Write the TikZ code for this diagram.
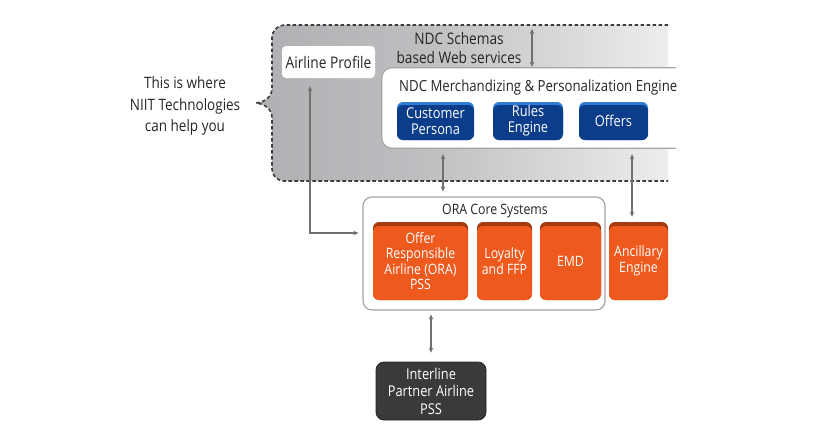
\documentclass[tikz,border=0pt]{standalone}
\usepackage{fontspec}
\setmainfont{Open Sans}[FakeStretch=0.86]
\usetikzlibrary{arrows.meta,calc}
\definecolor{txt}{HTML}{262626}
\definecolor{arrgray}{HTML}{707070}
\definecolor{dashgray}{HTML}{3C3C3C}
\definecolor{orangemain}{HTML}{EE5A1E}
\definecolor{orangedark}{HTML}{A83A10}
\definecolor{bluemain}{HTML}{0C3D8A}
\definecolor{bluelight}{HTML}{2E7BD4}
\definecolor{darkbox}{HTML}{3A3A3A}
\definecolor{darkborder}{HTML}{262626}
\definecolor{boxborder}{HTML}{A5A5A5}
\definecolor{gA}{HTML}{9C9EA1}
\definecolor{gB}{HTML}{BDBEC0}
\definecolor{gC}{HTML}{EDEDED}
\pgfdeclarehorizontalshading{grayfade}{100bp}{color(0bp)=(gA); color(45bp)=(gB); color(75bp)=(gC); color(88bp)=(white); color(100bp)=(white)}
\newcommand\regionpath{(668,25) -- (284,25) .. controls (277.4,25) and (272,31.6) .. (272,37) -- (272,88) .. controls (272,96) and (266,102) .. (256,103) .. controls (266,104) and (272,110) .. (272,118) -- (272,169) .. controls (272,175.4) and (277.4,181) .. (284,181) -- (668,181)}
\begin{document}
\begin{tikzpicture}[x=1pt,y=-1pt,
  lbl/.style={text=txt, inner sep=0pt, align=center},
  orbox/.style={rounded corners=6pt, fill=orangedark, text=white, align=center, inner sep=0pt,
    font=\fontsize{14.3pt}{15.5pt}\selectfont,
    path picture={\fill[orangemain, rounded corners=6pt] ([yshift=-4pt]path picture bounding box.north west) rectangle (path picture bounding box.south east);}},
  blbox/.style={rounded corners=6pt, fill=bluelight, text=white, align=center, inner sep=0pt,
    font=\fontsize{14.9pt}{16pt}\selectfont, minimum height=38pt,
    path picture={\fill[bluemain, rounded corners=6pt] ([yshift=-3pt]path picture bounding box.north west) rectangle (path picture bounding box.south east);}},
  arr/.style={draw=arrgray, line width=1.1pt, {Stealth[length=5pt,width=4.5pt]}-{Stealth[length=5pt,width=4.5pt]}}
]
\fill[white] (0,0) rectangle (830,439);
\useasboundingbox (0,0) rectangle (830,439);

% shaded region with dashed border
\shade[shading=grayfade] \regionpath -- cycle;
\draw[dashgray, line width=1.6pt, dash pattern=on 3.5pt off 2.5pt] \regionpath;

% left text
\node[lbl, font=\fontsize{15.7pt}{21.5pt}\selectfont] (help) at (185,106) {This is where\\NIIT Technologies\\can help you};

% airline profile
\node[lbl, fill=white, rounded corners=4pt, minimum width=93pt, minimum height=32pt, font=\fontsize{16pt}{18pt}\selectfont] (airline) at (328.5,62) {Airline Profile};

% NDC schemas
\node[lbl, font=\fontsize{15.9pt}{19.5pt}\selectfont] (schemas) at (459,48) {NDC Schemas\\based Web services};

% NDC engine box (open on the right)
\node[inner sep=0pt, minimum width=294pt, minimum height=80pt] (ndc) at (529,108) {};
\path[fill=white, draw=boxborder, line width=1.2pt] (ndc.north east) -- ($(ndc.north west)+(10,0)$) .. controls ($(ndc.north west)+(4.5,0)$) and ($(ndc.north west)+(0,4.5)$) .. ($(ndc.north west)+(0,10)$) -- ($(ndc.south west)+(0,-10)$) .. controls ($(ndc.south west)+(0,-4.5)$) and ($(ndc.south west)+(4.5,0)$) .. ($(ndc.south west)+(10,0)$) -- (ndc.south east);
\node[lbl, anchor=base west, font=\fontsize{15.35pt}{17pt}\selectfont] (ndctitle) at (399,91) {NDC Merchandizing \& Personalization Engine};

\node[blbox, minimum width=77pt] (persona) at (435.5,121) {Customer\\Persona};
\node[blbox, minimum width=70pt] (rules) at (528,121) {Rules\\Engine};
\node[blbox, minimum width=69pt] (offers) at (613.5,121) {Offers};

% ORA core systems
\node[fill=white, draw=boxborder, line width=1.2pt, rounded corners=9pt, minimum width=242pt, minimum height=113pt, inner sep=0pt] (oracore) at (484,253.5) {};
\node[lbl, anchor=base, font=\fontsize{14.3pt}{16pt}\selectfont] (coretitle) at (495,214) {ORA Core Systems};
\node[orbox, minimum width=95pt, minimum height=78pt] (orapss) at (420.5,261) {Offer\\Responsible\\Airline (ORA)\\PSS};
\node[orbox, minimum width=55pt, minimum height=78pt] (loyalty) at (504.5,261) {Loyalty\\and FFP};
\node[orbox, minimum width=61pt, minimum height=78pt] (emd) at (570.5,261) {EMD};
\node[orbox, minimum width=59pt, minimum height=78pt] (ancillary) at (638.5,261) {Ancillary\\Engine};

% interline
\node[fill=darkbox, draw=darkborder, line width=0.8pt, rounded corners=8pt, text=white, align=center, inner sep=0pt, minimum width=110pt, minimum height=58pt, font=\fontsize{14.9pt}{17.5pt}\selectfont] (interline) at (431,391) {Interline\\Partner Airline\\PSS};

% connectors
\coordinate (c443) at (443,0);
\coordinate (c632) at (632,0);
\coordinate (wstop) at (532,29);
\draw[arr] ([xshift=-18.5pt,yshift=-8pt]airline.south) |- ([xshift=-4pt,yshift=20.5pt]oracore.west);
\draw[arr, shorten <=6pt, shorten >=5pt] (ndc.south -| c443) -- (oracore.north -| c443);
\draw[arr, shorten <=6pt, shorten >=5pt] (ndc.south -| c632) -- (ancillary.north -| c632);
\draw[arr, shorten >=1pt] (wstop) -- (ndc.north -| wstop);
\draw[arr, shorten <=4pt, shorten >=9pt] (oracore.south -| interline) -- (interline.north);
\end{tikzpicture}
\end{document}
